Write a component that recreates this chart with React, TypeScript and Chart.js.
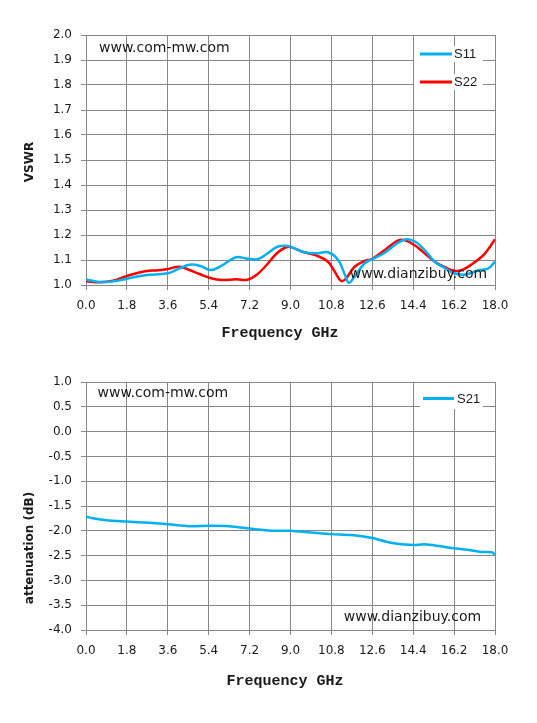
import React, { useEffect, useRef } from "react";
import { Chart, registerables } from "chart.js";

Chart.register(...registerables);

// ---------- data ----------
const X_TICKS = [0, 1.8, 3.6, 5.4, 7.2, 9.0, 10.8, 12.6, 14.4, 16.2, 18.0];
const VSWR_TICKS = [1.0, 1.1, 1.2, 1.3, 1.4, 1.5, 1.6, 1.7, 1.8, 1.9, 2.0];
const ATT_TICKS = [1.0, 0.5, 0.0, -0.5, -1.0, -1.5, -2.0, -2.5, -3.0, -3.5, -4.0];

const S11_FREQ = [0, 0.6, 1.2, 1.8, 2.6, 3.6, 4.1, 4.55, 5.0, 5.5, 6.0, 6.6, 7.05, 7.55, 7.95, 8.4, 8.8, 9.0, 9.6, 10.2, 10.65, 11.1, 11.4, 11.57, 11.82, 12.26, 12.6, 13.15, 13.7, 14.1, 14.5, 14.9, 15.35, 15.8, 16.2, 16.7, 17.25, 17.7, 18.0];
const S11_VSWR = [1.022, 1.012, 1.015, 1.025, 1.039, 1.047, 1.066, 1.081, 1.077, 1.06, 1.079, 1.111, 1.106, 1.103, 1.124, 1.152, 1.157, 1.153, 1.131, 1.127, 1.131, 1.1, 1.04, 1.009, 1.033, 1.087, 1.103, 1.129, 1.167, 1.183, 1.173, 1.14, 1.093, 1.067, 1.047, 1.042, 1.058, 1.066, 1.093];

const S22_FREQ = [0, 0.6, 1.2, 1.8, 2.6, 3.2, 3.6, 4.1, 4.55, 5.0, 5.5, 6.0, 6.6, 7.1, 7.5, 7.95, 8.4, 8.8, 9.0, 9.6, 10.2, 10.65, 10.95, 11.23, 11.45, 11.82, 12.26, 12.6, 13.15, 13.7, 14.0, 14.45, 14.9, 15.35, 15.8, 16.2, 16.55, 17.0, 17.45, 17.7, 18.0];
const S22_VSWR = [1.015, 1.011, 1.017, 1.036, 1.055, 1.059, 1.064, 1.073, 1.06, 1.044, 1.027, 1.02, 1.023, 1.021, 1.04, 1.08, 1.127, 1.151, 1.152, 1.131, 1.116, 1.093, 1.053, 1.016, 1.027, 1.073, 1.096, 1.105, 1.14, 1.177, 1.18, 1.16, 1.127, 1.093, 1.071, 1.057, 1.06, 1.084, 1.116, 1.143, 1.183];

const S21_FREQ = [0, 0.3, 0.9, 1.8, 2.6, 3.6, 4.55, 5.4, 6.3, 7.2, 7.9, 8.5, 9.0, 9.9, 10.8, 11.7, 12.6, 13.4, 14.4, 14.9, 15.6, 16.2, 16.8, 17.4, 17.85, 18.0];
const S21_DB = [-1.714, -1.747, -1.787, -1.813, -1.833, -1.867, -1.907, -1.9, -1.907, -1.953, -1.987, -2.0, -2.0, -2.033, -2.067, -2.087, -2.147, -2.24, -2.287, -2.273, -2.313, -2.353, -2.38, -2.427, -2.433, -2.48];

const TOP_SERIES = ["S11", "S22"];
const BOTTOM_SERIES = ["S21"];
const X_TITLE = "Frequency GHz";
const Y_TITLE_TOP = "VSWR";
const Y_TITLE_BOTTOM = "attenuation (dB)";
const NOTE_LEFT = "www.com-mw.com";
const NOTE_RIGHT = "www.dianzibuy.com";

// ---------- styles ----------
const BLUE = "#00b0f0";
const RED = "#ff0000";
const GRID = "#878787";
const TEXT = "#1a1a1a";
const SANS = "'DejaVu Sans', Verdana, sans-serif";

const toPoints = (xs: number[], ys: number[]) => xs.map((x, i) => ({ x, y: ys[i] }));

function baseOptions(yMin: number, yMax: number, yTicks: number[], padding: any, overlay: any) {
  const tickFont = { family: SANS, size: 12 };
  return {
    responsive: false,
    animation: false,
    devicePixelRatio: 1,
    layout: { padding },
    plugins: { legend: { display: false }, tooltip: { enabled: false }, overlay },
    elements: { point: { radius: 0 } },
    scales: {
      x: {
        type: "linear",
        min: 0,
        max: 18,
        afterBuildTicks: (s: any) => {
          s.ticks = X_TICKS.map((v) => ({ value: v }));
        },
        afterFit: (s: any) => {
          s.height = 40;
        },
        ticks: {
          callback: (v: any) => Number(v).toFixed(1),
          color: TEXT,
          font: tickFont,
          padding: 9,
          maxRotation: 0,
          autoSkip: false,
        },
        grid: { color: GRID, lineWidth: 1, tickLength: 5, tickColor: GRID },
        border: { color: GRID, width: 1 },
      },
      y: {
        type: "linear",
        min: yMin,
        max: yMax,
        afterBuildTicks: (s: any) => {
          s.ticks = yTicks.map((v) => ({ value: v }));
        },
        afterFit: (s: any) => {
          s.width = 86;
        },
        ticks: {
          callback: (v: any) => Number(v).toFixed(1),
          color: TEXT,
          font: tickFont,
          padding: 9,
          autoSkip: false,
        },
        grid: { color: GRID, lineWidth: 1, tickLength: 5, tickColor: GRID },
        border: { color: GRID, width: 1 },
      },
    },
  };
}

const overlayPlugin = {
  id: "overlay",
  afterDraw(chart: any, _args: any, cfg: any) {
    const ctx = chart.ctx;
    ctx.save();
    ctx.fillStyle = TEXT;
    // y axis title
    ctx.save();
    ctx.font = `bold 12px ${SANS}`;
    ctx.textAlign = "center";
    ctx.textBaseline = "middle";
    ctx.translate(cfg.yTitle.x, cfg.yTitle.y);
    ctx.rotate(-Math.PI / 2);
    ctx.fillText(cfg.yTitle.text, 0, 0);
    ctx.restore();
    // x axis title
    ctx.font = "bold 15px 'Liberation Mono', 'DejaVu Sans Mono', monospace";
    ctx.textAlign = "center";
    ctx.textBaseline = "middle";
    ctx.fillText(cfg.xTitle.text, cfg.xTitle.x, cfg.xTitle.y);
    // notes
    ctx.font = `14px ${SANS}`;
    ctx.textAlign = "left";
    ctx.fillText(cfg.note1.text, cfg.note1.x, cfg.note1.y);
    ctx.textAlign = "center";
    ctx.fillText(cfg.note2.text, cfg.note2.x, cfg.note2.y);
    // legend
    const lg = cfg.legend;
    const [bl, bt, br, bb] = lg.box;
    ctx.fillStyle = "#ffffff";
    if (lg.gridGap) {
      const gx = Math.round(chart.scales.x.getPixelForValue(lg.gridValue));
      ctx.fillRect(bl, bt, gx - bl, bb - bt);
      ctx.fillRect(gx + 1, bt, br - gx - 1, bb - bt);
    } else {
      ctx.fillRect(bl, bt, br - bl, bb - bt);
    }
    ctx.font = "13px 'Liberation Sans', Arial, sans-serif";
    ctx.textAlign = "left";
    ctx.textBaseline = "middle";
    chart.data.datasets.forEach((ds: any, i: number) => {
      const y = lg.itemY[i];
      const label = ds.label;
      const w = ctx.measureText(label).width;
      ctx.fillStyle = "#ffffff";
      ctx.fillRect(lg.textX - 1, y - 8, w + 2, 16);
      ctx.strokeStyle = ds.borderColor;
      ctx.lineWidth = 3;
      ctx.beginPath();
      ctx.moveTo(lg.lineX[0], y);
      ctx.lineTo(lg.lineX[1], y);
      ctx.stroke();
      ctx.fillStyle = TEXT;
      ctx.fillText(label, lg.textX, y + 0.5);
    });
    ctx.restore();
  },
};

function useChart(ref: React.RefObject<HTMLCanvasElement | null>, makeConfig: () => any) {
  useEffect(() => {
    if (!ref.current) return;
    const chart = new Chart(ref.current, makeConfig());
    return () => chart.destroy();
  }, []);
}

export default function App() {
  const topRef = useRef<HTMLCanvasElement | null>(null);
  const botRef = useRef<HTMLCanvasElement | null>(null);

  useChart(topRef, () => ({
    type: "line",
    data: {
      datasets: [
        {
          label: TOP_SERIES[0],
          data: toPoints(S11_FREQ, S11_VSWR),
          borderColor: BLUE,
          borderWidth: 2.5,
          tension: 0.4,
          fill: false,
        },
        {
          label: TOP_SERIES[1],
          data: toPoints(S22_FREQ, S22_VSWR),
          borderColor: RED,
          borderWidth: 2.5,
          tension: 0.4,
          fill: false,
        },
      ],
    },
    options: baseOptions(1.0, 2.0, VSWR_TICKS, { left: 0, right: 42, top: 35, bottom: 29 }, {
      yTitle: { text: Y_TITLE_TOP, x: 30, y: 162 },
      xTitle: { text: X_TITLE, x: 280, y: 333 },
      note1: { text: NOTE_LEFT, x: 99, y: 48.5 },
      note2: { text: NOTE_RIGHT, x: 418.5, y: 274 },
      legend: { box: [414, 36, 483, 97], gridGap: true, gridValue: 16.2, itemY: [54, 82], lineX: [420, 452], textX: 454 },
    }),
    plugins: [overlayPlugin],
  }));

  useChart(botRef, () => ({
    type: "line",
    data: {
      datasets: [
        {
          label: BOTTOM_SERIES[0],
          data: toPoints(S21_FREQ, S21_DB),
          borderColor: BLUE,
          borderWidth: 2.5,
          tension: 0.3,
          fill: false,
        },
      ],
    },
    options: baseOptions(-4.0, 1.0, ATT_TICKS, { left: 0, right: 42, top: 28, bottom: 53 }, {
      yTitle: { text: Y_TITLE_BOTTOM, x: 30, y: 194 },
      xTitle: { text: X_TITLE, x: 285, y: 327.5 },
      note1: { text: NOTE_LEFT, x: 97.5, y: 39.5 },
      note2: { text: NOTE_RIGHT, x: 412.5, y: 263.5 },
      legend: { box: [420, 29, 483, 55], gridGap: false, gridValue: 16.2, itemY: [44.5], lineX: [423, 454], textX: 457 },
    }),
    plugins: [overlayPlugin],
  }));

  return (
    <div style={{ position: "absolute", left: 0, top: 0, width: 537, height: 723, background: "#fff" }}>
      <canvas
        ref={topRef}
        width={537}
        height={354}
        style={{ position: "absolute", left: 0, top: 0, width: 537, height: 354 }}
      />
      <canvas
        ref={botRef}
        width={537}
        height={369}
        style={{ position: "absolute", left: 0, top: 354, width: 537, height: 369 }}
      />
    </div>
  );
}
